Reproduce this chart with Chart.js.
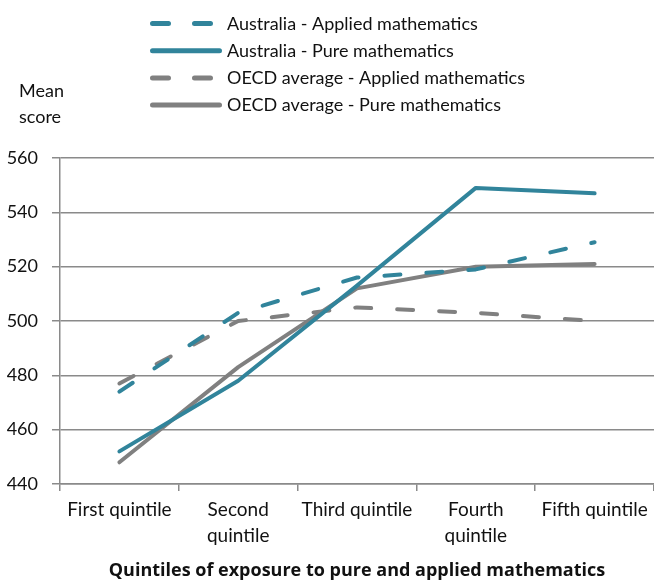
<!DOCTYPE html>
<html>
<head>
<meta charset="utf-8">
<title>Mean score by quintile of exposure</title>
<script src="https://cdn.jsdelivr.net/npm/chart.js@4.4.1/dist/chart.umd.min.js"></script>
<style>
  html, body { margin: 0; padding: 0; background: #fff; }
  #wrap { width: 654px; height: 580px; }
</style>
</head>
<body>
<div id="wrap"><canvas id="scoreChart"></canvas></div>
<script>
// Categories and mean scores
const quintiles = ["First quintile", ["Second", "quintile"], "Third quintile", ["Fourth", "quintile"], "Fifth quintile"];
const ausApplied = [474, 503, 516, 519, 529];
const ausPure = [452, 478, 513, 549, 547];
const oecdApplied = [477, 500, 505, 503, 500];
const oecdPure = [448, 483, 512, 520, 521];
const yMin = 440, yMax = 560, yStep = 20;

const TEAL = "#31849B";
const GREY = "#808080";
const GRID = "#8a8a8a";
const FONT = "Lato, 'Open Sans', sans-serif";

function series(label, data, color, dashed) {
  return {
    label, data,
    borderColor: color,
    backgroundColor: color,
    borderWidth: 4,
    borderDash: dashed ? [16, 26] : [],
    borderCapStyle: "round",
    borderJoinStyle: "round",
    pointRadius: 0,
    tension: 0,
    fill: false
  };
}

// Stacked legend on top plus the "Mean score" caption
const topLegend = {
  id: "topLegend",
  afterDraw(chart) {
    const ctx = chart.ctx;
    ctx.save();
    chart.data.datasets.forEach((ds, i) => {
      const y = 23.5 + i * 27.2;
      ctx.strokeStyle = ds.borderColor;
      ctx.lineWidth = 5;
      ctx.lineCap = "round";
      ctx.setLineDash(ds.borderDash);
      ctx.beginPath();
      ctx.moveTo(152.5, y);
      ctx.lineTo(219.5, y);
      ctx.stroke();
      ctx.setLineDash([]);
      ctx.fillStyle = "#111";
      ctx.font = "18px " + FONT;
      ctx.textAlign = "left";
      ctx.textBaseline = "middle";
      ctx.fillText(ds.label, 227, y + 0.5);
    });
    ctx.fillText("Mean", 19, 91);
    ctx.fillText("score", 19, 117);
    ctx.restore();
  }
};

new Chart(document.getElementById("scoreChart"), {
  type: "line",
  data: {
    labels: quintiles,
    datasets: [
      series("Australia - Applied mathematics", ausApplied, TEAL, true),
      series("Australia - Pure mathematics", ausPure, TEAL, false),
      series("OECD average - Applied mathematics", oecdApplied, GREY, true),
      series("OECD average - Pure mathematics", oecdPure, GREY, false)
    ]
  },
  options: {
    responsive: true,
    maintainAspectRatio: false,
    animation: false,
    layout: { padding: { top: 158, left: 0, right: 0, bottom: 0 } },
    plugins: {
      legend: { display: false },
      tooltip: { enabled: false }
    },
    scales: {
      x: {
        offset: true,
        afterFit(scale) { scale.height = 96; },
        grid: {
          offset: true,
          drawOnChartArea: false,
          drawTicks: true,
          tickLength: 7,
          color: GRID,
          lineWidth: 1.5
        },
        border: { color: GRID, width: 1.5 },
        ticks: {
          color: "#111",
          font: { family: FONT, size: 19, lineHeight: 1.37 },
          padding: 6,
          maxRotation: 0,
          autoSkip: false
        },
        title: {
          display: true,
          text: "Quintiles of exposure to pure and applied mathematics",
          color: "#111",
          font: { family: "'Open Sans', sans-serif", size: 18, weight: "bold", lineHeight: 1.05 },
          padding: { top: 0, bottom: 0 }
        }
      },
      y: {
        min: yMin,
        max: yMax,
        afterFit(scale) { scale.width = 60; },
        grid: {
          color: GRID,
          lineWidth: 1.5,
          tickLength: 8
        },
        border: { color: GRID, width: 1.5 },
        ticks: {
          stepSize: yStep,
          color: "#111",
          font: { family: FONT, size: 18 },
          padding: 14
        }
      }
    }
  },
  plugins: [topLegend]
});
</script>
</body>
</html>
